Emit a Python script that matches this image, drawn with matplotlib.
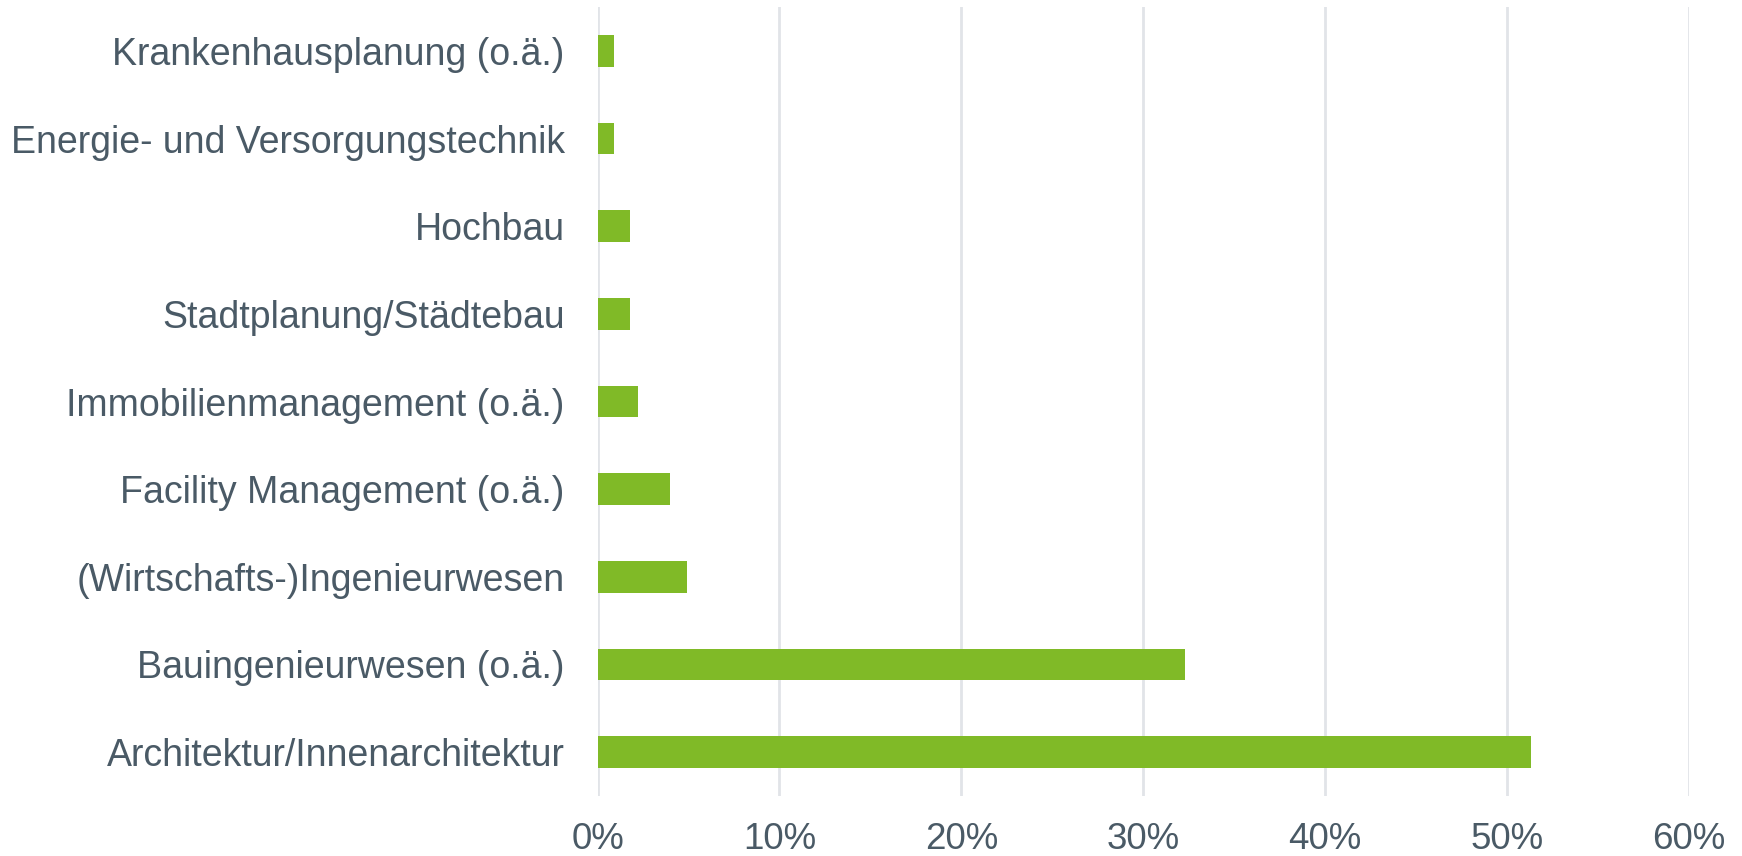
import matplotlib

matplotlib.use('Agg')
import matplotlib.pyplot as plt
from matplotlib.ticker import PercentFormatter

# Data (bottom to top)
categories = [
    'Architektur/Innenarchitektur',
    'Bauingenieurwesen (o.ä.)',
    '(Wirtschafts-)Ingenieurwesen',
    'Facility Management (o.ä.)',
    'Immobilienmanagement (o.ä.)',
    'Stadtplanung/Städtebau',
    'Hochbau',
    'Energie- und Versorgungstechnik',
    'Krankenhausplanung (o.ä.)',
]
shares = [51.3, 32.3, 4.9, 4.0, 2.2, 1.8, 1.8, 0.9, 0.9]
x_ticks = [0, 10, 20, 30, 40, 50, 60]

bar_color = '#80ba27'
text_color = '#4a5a66'
grid_color = '#e1e4e8'

plt.rcParams['font.family'] = ['Liberation Sans', 'DejaVu Sans']

fig = plt.figure(figsize=(17.42, 8.56), dpi=100)
ax = fig.add_axes([597.5 / 1742, 1 - 796 / 856, (1689 - 597.5) / 1742, (796 - 7) / 856])

ax.barh(range(len(categories)), shares, height=0.36, color=bar_color, zorder=3)

ax.set_xlim(0, 60)
ax.set_ylim(-0.5, len(categories) - 0.5)
ax.set_xticks(x_ticks)
ax.xaxis.set_major_formatter(PercentFormatter(decimals=0))
ax.set_yticks(range(len(categories)))
ax.set_yticklabels(categories)

ax.grid(axis='x', color=grid_color, linewidth=2, zorder=0)
ax.grid(axis='y', visible=False)
for s in ax.spines.values():
    s.set_visible(False)

ax.tick_params(axis='x', length=0, pad=19, labelsize=26.5, labelcolor=text_color)
ax.tick_params(axis='y', length=0, pad=23.5, labelsize=27, labelcolor=text_color)

plt.savefig('out.png', dpi=100)
